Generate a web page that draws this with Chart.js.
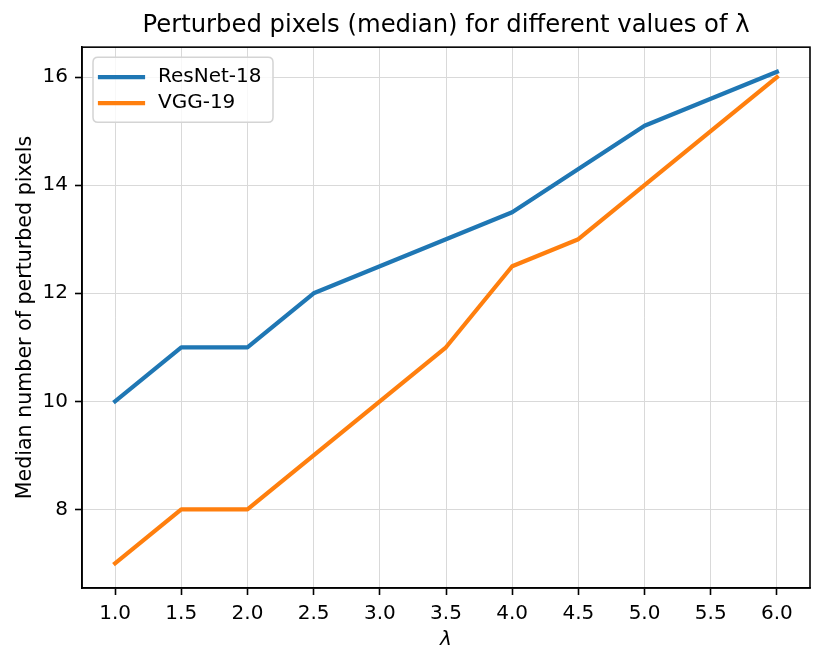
<!DOCTYPE html>
<html>
<head>
<meta charset="utf-8">
<script src="https://cdn.jsdelivr.net/npm/chart.js@4/dist/chart.umd.min.js"></script>
<style>
  html, body { margin: 0; padding: 0; background: #ffffff; }
  #wrap { width: 831px; height: 665px; }
</style>
</head>
<body>
<div id="wrap"><canvas id="c" width="831" height="665"></canvas></div>
<script>
// ---- data ----
const lambdas = [1.0, 1.5, 2.0, 2.5, 3.0, 3.5, 4.0, 4.5, 5.0, 5.5, 6.0];
const resnet18 = [10, 11, 11, 12, 12.5, 13, 13.5, 14.3, 15.1, 15.6, 16.1];
const vgg19 = [7, 8, 8, 9, 10, 11, 12.5, 13, 14, 15, 16];
const seriesNames = ['ResNet-18', 'VGG-19'];
const xTicks = [1.0, 1.5, 2.0, 2.5, 3.0, 3.5, 4.0, 4.5, 5.0, 5.5, 6.0];
const yTicks = [8, 10, 12, 14, 16];
const titleText = 'Perturbed pixels (median) for different values of λ';
const xLabel = 'λ';
const yLabel = 'Median number of perturbed pixels';

const FONT = 'DejaVu Sans';
Chart.defaults.font.family = FONT;
Chart.defaults.color = '#000000';

const toPoints = (xs, ys) => xs.map((x, i) => ({ x: x, y: ys[i] }));

const frame = {
  id: 'frame',
  afterDatasetsDraw(chart) {
    const a = chart.chartArea, ctx = chart.ctx;
    ctx.save();
    ctx.strokeStyle = '#000';
    ctx.lineWidth = 1.6;
    ctx.strokeRect(a.left, a.top, a.right - a.left, a.bottom - a.top);
    ctx.restore();
  }
};

const boxLegend = {
  id: 'boxLegend',
  afterDraw(chart) {
    const a = chart.chartArea, ctx = chart.ctx;
    const x0 = a.left + 11, y0 = a.top + 10, w = 180, h = 65, r = 5;
    ctx.save();
    ctx.beginPath();
    ctx.moveTo(x0 + r, y0);
    ctx.lineTo(x0 + w - r, y0);
    ctx.quadraticCurveTo(x0 + w, y0, x0 + w, y0 + r);
    ctx.lineTo(x0 + w, y0 + h - r);
    ctx.quadraticCurveTo(x0 + w, y0 + h, x0 + w - r, y0 + h);
    ctx.lineTo(x0 + r, y0 + h);
    ctx.quadraticCurveTo(x0, y0 + h, x0, y0 + h - r);
    ctx.lineTo(x0, y0 + r);
    ctx.quadraticCurveTo(x0, y0, x0 + r, y0);
    ctx.closePath();
    ctx.fillStyle = 'rgba(255,255,255,0.8)';
    ctx.fill();
    ctx.strokeStyle = '#d4d4d4';
    ctx.lineWidth = 1.5;
    ctx.stroke();
    ctx.font = '20px "' + FONT + '"';
    ctx.textBaseline = 'middle';
    ctx.textAlign = 'left';
    chart.data.datasets.forEach((ds, i) => {
      const cy = y0 + 20 + i * 26;
      ctx.beginPath();
      ctx.moveTo(x0 + 7, cy);
      ctx.lineTo(x0 + 50, cy);
      ctx.strokeStyle = ds.borderColor;
      ctx.lineWidth = ds.borderWidth;
      ctx.lineCap = 'square';
      ctx.stroke();
      ctx.fillStyle = '#000';
      ctx.fillText(ds.label, x0 + 65, cy);
    });
    ctx.restore();
  }
};

new Chart(document.getElementById('c'), {
  type: 'line',
  data: {
    datasets: [
      {
        label: seriesNames[0],
        data: toPoints(lambdas, resnet18),
        borderColor: '#1f77b4',
        backgroundColor: '#1f77b4',
        borderWidth: 4.2,
        pointRadius: 0,
        tension: 0,
        borderCapStyle: 'square',
        borderJoinStyle: 'round',
        fill: false
      },
      {
        label: seriesNames[1],
        data: toPoints(lambdas, vgg19),
        borderColor: '#ff7f0e',
        backgroundColor: '#ff7f0e',
        borderWidth: 4.2,
        pointRadius: 0,
        tension: 0,
        borderCapStyle: 'square',
        borderJoinStyle: 'round',
        fill: false
      }
    ]
  },
  options: {
    responsive: false,
    animation: false,
    devicePixelRatio: 1,
    layout: { padding: { left: 0, right: 21, top: 0, bottom: 0 } },
    plugins: {
      legend: { display: false },
      tooltip: { enabled: false },
      title: {
        display: true,
        text: titleText,
        fullSize: false,
        color: '#000',
        font: { family: FONT, size: 24.3, weight: 'normal', lineHeight: 1.2 },
        padding: { top: 11.4, bottom: 6.6 }
      }
    },
    scales: {
      x: {
        type: 'linear',
        min: 0.75,
        max: 6.25,
        afterBuildTicks: (s) => { s.ticks = xTicks.map(v => ({ value: v })); },
        afterFit: (s) => { s.height = 77; },
        ticks: {
          font: { family: FONT, size: 20 },
          color: '#000',
          padding: 7,
          maxRotation: 0,
          autoSkip: false,
          callback: (v) => Number(v).toFixed(1)
        },
        grid: {
          color: '#d9d9d9',
          lineWidth: 1,
          tickLength: 7,
          tickColor: '#000',
          tickWidth: 1.6
        },
        border: { display: true, color: '#000', width: 1.6 },
        title: {
          display: true,
          text: xLabel,
          color: '#000',
          font: { family: FONT, size: 20, style: 'italic', lineHeight: 1.2 },
          padding: { top: 0, bottom: 13 }
        }
      },
      y: {
        type: 'linear',
        min: 6.545,
        max: 16.555,
        afterBuildTicks: (s) => { s.ticks = yTicks.map(v => ({ value: v })); },
        afterFit: (s) => { s.width = 82; },
        ticks: {
          font: { family: FONT, size: 20 },
          color: '#000',
          padding: 7,
          autoSkip: false,
          callback: (v) => String(v)
        },
        grid: {
          color: '#d9d9d9',
          lineWidth: 1,
          tickLength: 7,
          tickColor: '#000',
          tickWidth: 1.6
        },
        border: { display: true, color: '#000', width: 1.6 },
        title: {
          display: true,
          text: yLabel,
          color: '#000',
          font: { family: FONT, size: 20.6, lineHeight: 1.2 },
          padding: { top: 13.6, bottom: 0 }
        }
      }
    }
  },
  plugins: [frame, boxLegend]
});
</script>
</body>
</html>
